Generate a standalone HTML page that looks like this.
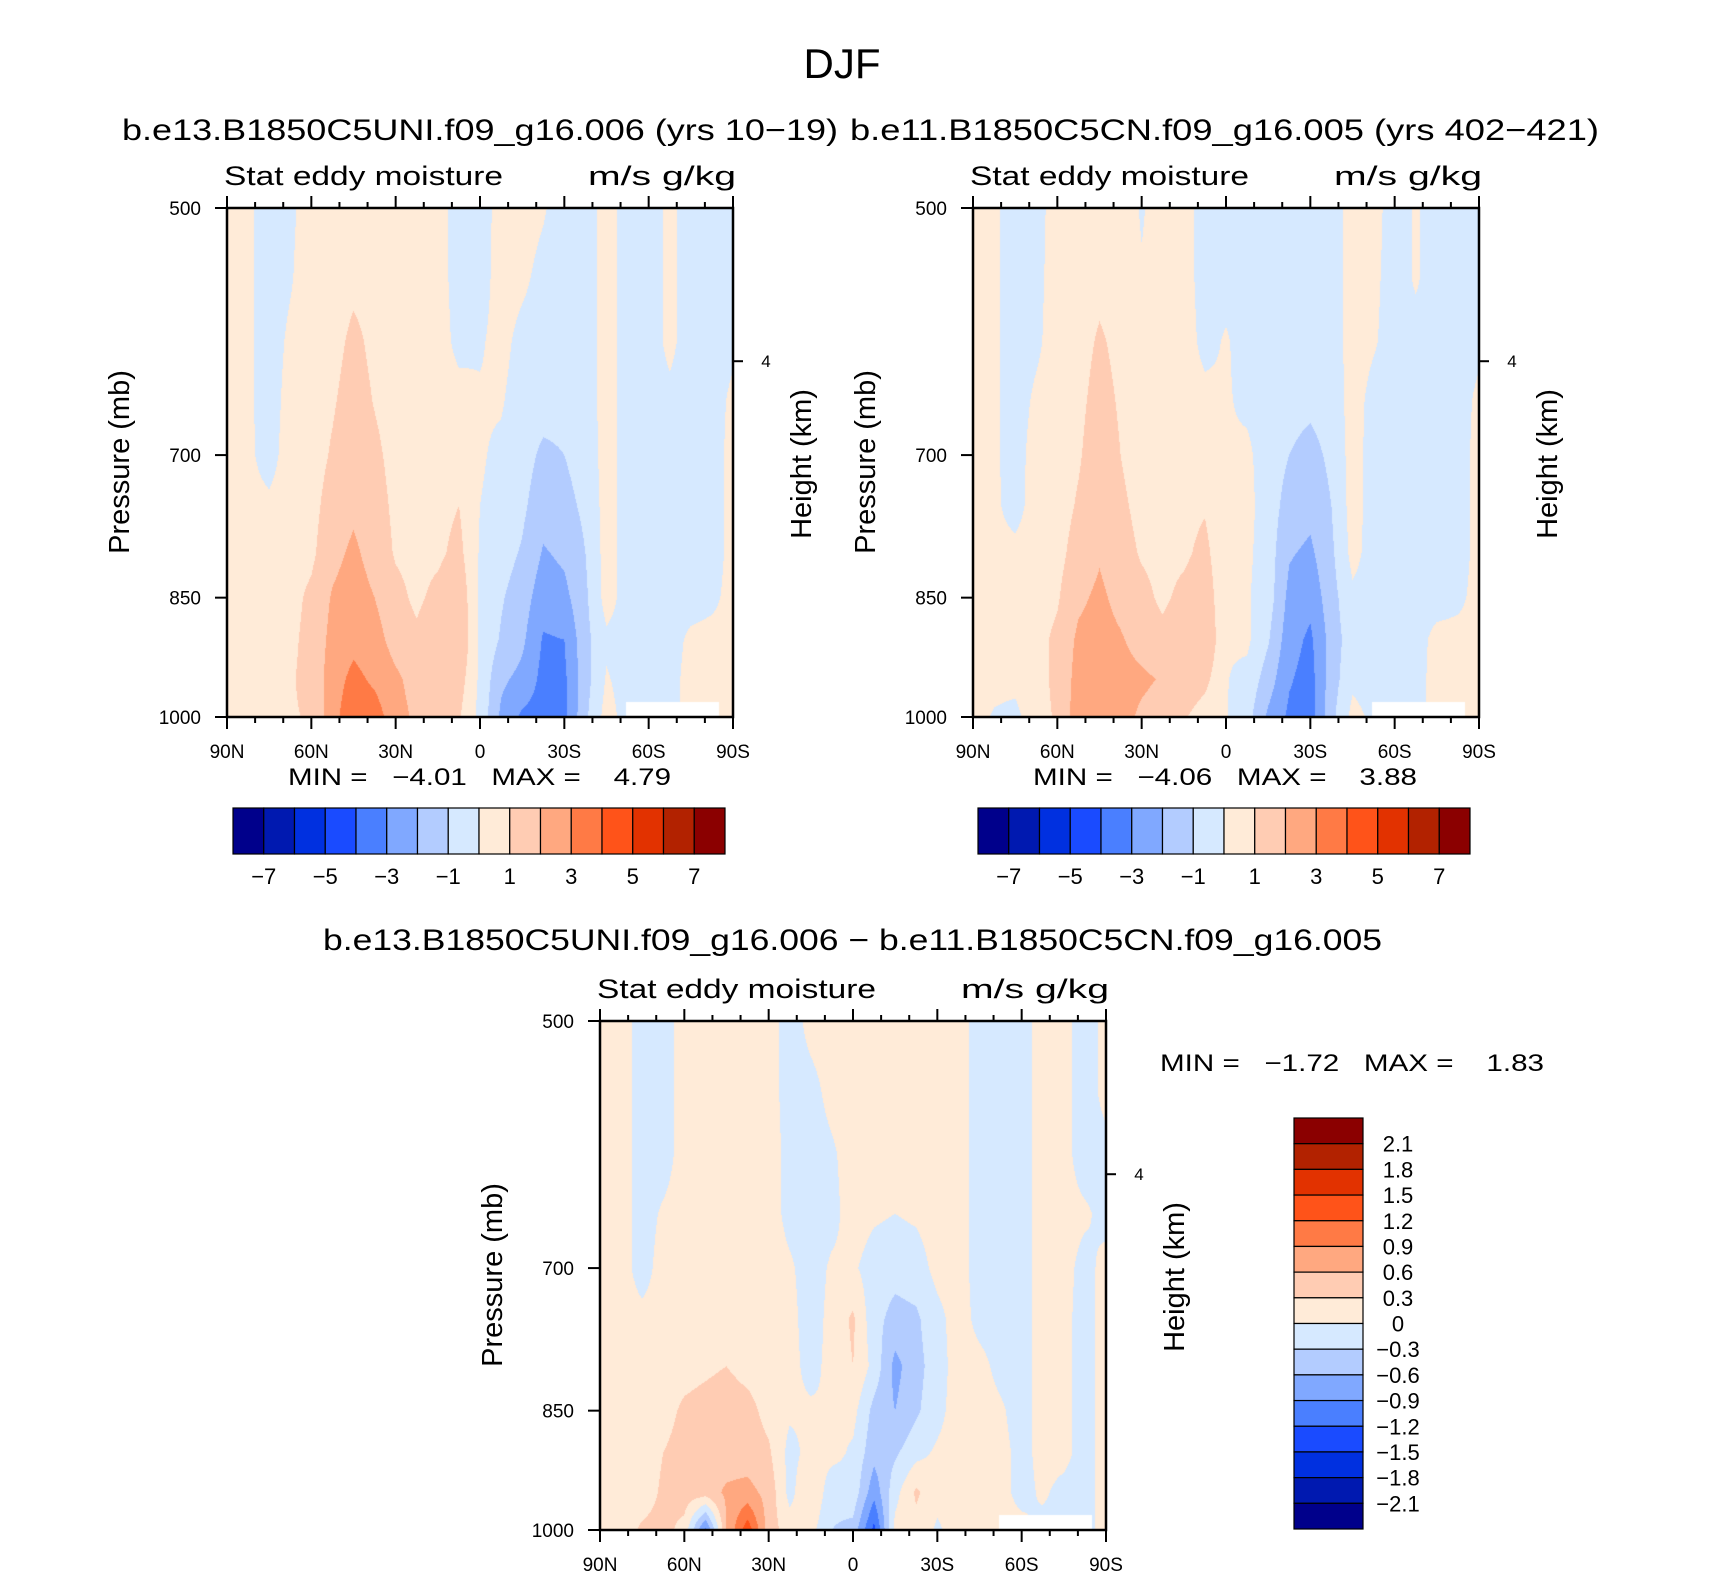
<!DOCTYPE html>
<html><head><meta charset="utf-8"><style>
html,body{margin:0;padding:0;background:#fff;}
#wrap{position:relative;width:1710px;height:1581px;overflow:hidden;background:#fff;}
canvas{position:absolute;}
svg{position:absolute;left:0;top:0;}
text{font-family:"Liberation Sans",sans-serif;fill:#000;}
</style></head><body>
<div id="wrap">
<canvas id="c1"></canvas>
<canvas id="c2"></canvas>
<canvas id="c3"></canvas>
<svg id="s" width="1710" height="1581">
<text x="842" y="78" font-size="42" text-anchor="middle">DJF</text>
<text x="122" y="140" font-size="30" textLength="716" lengthAdjust="spacingAndGlyphs">b.e13.B1850C5UNI.f09_g16.006 (yrs 10−19)</text>
<text x="850" y="140" font-size="30" textLength="749" lengthAdjust="spacingAndGlyphs">b.e11.B1850C5CN.f09_g16.005 (yrs 402−421)</text>
<text x="323" y="950" font-size="30" textLength="1059" lengthAdjust="spacingAndGlyphs">b.e13.B1850C5UNI.f09_g16.006 − b.e11.B1850C5CN.f09_g16.005</text>
<text x="288" y="785" font-size="24" xml:space="preserve" textLength="383" lengthAdjust="spacingAndGlyphs">MIN =   −4.01   MAX =    4.79</text>
<text x="1033" y="785" font-size="24" xml:space="preserve" textLength="384" lengthAdjust="spacingAndGlyphs">MIN =   −4.06   MAX =    3.88</text>
<text x="1160" y="1071" font-size="24" xml:space="preserve" textLength="384" lengthAdjust="spacingAndGlyphs">MIN =   −1.72   MAX =    1.83</text>
</svg>
</div>
<script>
const PLEVS=[500,550,600,650,700,750,800,850,900,950,1000];
const XTICK_LABELS=['90N','60N','30N','0','30S','60S','90S'];
const YTICK_VALUES=[500,700,850,1000];
const CB_LABELS_TOP=['−7','−5','−3','−1','1','3','5','7'];
const CB_LABELS_DIFF=['2.1','1.8','1.5','1.2','0.9','0.6','0.3','0','−0.3','−0.6','−0.9','−1.2','−1.5','−1.8','−2.1'];
const COLORS=['#00008B','#0019B0','#0030E0','#1A4BFF','#4A7FFF','#80A8FF','#B3CCFF','#D6E9FF','#FFEBD8','#FFCCB3','#FFA880','#FF7A45','#FF5319','#E23200','#B22200','#8B0000'];
// columns: latitude 90N -> 90S every 7.5 deg; each column lists values 500 -> 1000 mb
const P1=[
[.4,.4,.4,.4,.4,.4,.4,.4,.4,.4,.4],
[.2,.2,.2,.2,.2,.3,.4,.4,.4,.4,.4],
[-.5,-.5,-.5,-.5,-.4,.2,.4,.5,.5,.6,.6],
[-.2,-.1,.2,.4,.5,.5,.6,.7,.8,.9,.9],
[.5,.6,.6,.6,.6,.7,.8,1.2,1.3,1.3,1.1],
[.5,.6,.7,.9,1.1,1.4,1.7,2.1,2.3,2.5,2.6],
[.6,.8,1.2,1.4,1.6,1.8,2.2,2.5,2.7,3.3,3.8],
[.6,.7,.8,.95,1.2,1.4,1.6,2.0,2.4,2.8,3.5],
[.3,.5,.5,.6,.7,.8,.9,1.3,1.6,2.2,2.4],
[.5,.5,.5,.5,.6,.6,.7,.8,1.2,1.6,1.8],
[.5,.5,.5,.5,.6,.7,.8,1.3,1.9,1.9,1.2],
[-.5,-.5,-.3,.4,.7,1.0,1.3,1.8,2.0,1.5,1.1],
[-.5,-.4,-.1,.1,.1,0,-.1,-.2,-.2,-.2,-.3],
[.4,.4,.3,.1,-.2,-.3,-.6,-.9,-1.1,-1.8,-2.2],
[.4,.2,-.3,-.5,-.6,-.8,-1.1,-1.5,-1.8,-2.3,-3.2],
[.1,-.3,-.5,-.6,-1.2,-1.6,-2.1,-2.6,-3.1,-3.3,-3.4],
[-.5,-.5,-.5,-.7,-1.0,-1.3,-1.8,-2.3,-3.0,-3.2,-3.3],
[-.5,-.5,-.5,-.5,-.6,-.8,-1.0,-1.2,-1.3,-1.4,-1.2],
[.4,.4,.4,.4,.4,.4,.4,.4,-.2,.1,.4],
[-.4,-.4,-.4,-.4,-.4,-.4,-.4,-.4,-.4,-.4,-.4],
[-.4,-.4,-.4,-.4,-.4,-.4,-.4,-.4,-.4,-.4,-.4],
[.2,.2,.2,-.2,-.4,-.4,-.4,-.4,-.4,-.4,-.4],
[-.4,-.4,-.4,-.4,-.4,-.4,-.4,-.4,.2,.4,.4],
[-.4,-.4,-.4,-.4,-.4,-.4,-.4,-.2,.3,.4,.3],
[-.4,-.4,-.2,.2,.3,.3,.3,.3,.3,.3,.3]];
const P2=[
[.4,.4,.4,.4,.4,.4,.4,.4,.4,.4,.4],
[.2,.2,.2,.2,.2,.2,.3,.4,.4,.3,-.1],
[-.5,-.5,-.5,-.5,-.5,-.4,.3,.4,.5,.3,-.3],
[-.4,-.3,-.2,.2,.5,.5,.5,.6,.7,.7,.7],
[.5,.5,.5,.5,.6,.6,.7,.9,1.2,1.2,1.1],
[.5,.6,.7,.8,.9,1.1,1.4,1.8,2.2,2.4,2.6],
[.6,.8,1.1,1.3,1.5,1.7,1.9,2.2,2.4,2.5,3.0],
[.6,.7,.8,.9,1.0,1.2,1.4,1.7,2.1,2.4,2.4],
[-.1,.1,.4,.5,.5,.7,.9,1.3,1.6,2.2,1.8],
[.5,.5,.5,.5,.5,.6,.7,.8,1.3,1.9,1.5],
[.5,.5,.5,.5,.6,.7,.8,1.3,1.9,1.7,1.1],
[-.5,-.5,-.3,.3,.6,.9,1.3,1.7,2.0,1.3,.5],
[-.5,-.3,.1,.1,.1,.1,.1,.1,.1,.05,.05],
[-.4,-.4,-.4,-.2,.2,.3,.2,.1,.2,-.3,-.6],
[-.5,-.5,-.5,-.5,-.5,-.5,-.5,-.5,-.9,-1.5,-2.2],
[-.5,-.5,-.5,-.7,-1.0,-1.4,-1.9,-2.3,-2.6,-2.9,-3.2],
[-.5,-.5,-.6,-.8,-1.3,-1.7,-2.2,-2.7,-3.2,-3.4,-3.5],
[-.5,-.5,-.5,-.6,-.8,-1.0,-1.2,-1.4,-1.6,-1.5,-1.3],
[.4,.4,.4,.4,.4,.4,.3,-.2,-.4,-.2,.3],
[.3,.2,.1,-.3,-.4,-.4,-.4,-.4,-.4,-.4,-.2],
[-.4,-.4,-.4,-.4,-.4,-.4,-.4,-.4,-.4,-.4,-.4],
[.1,.1,-.3,-.4,-.4,-.4,-.4,-.4,-.4,-.4,-.4],
[-.4,-.4,-.4,-.4,-.4,-.4,-.4,-.4,.3,.4,.4],
[-.4,-.4,-.4,-.4,-.4,-.4,-.4,-.2,.3,.3,.3],
[-.4,-.4,-.2,.2,.3,.3,.3,.3,.3,.3,.3]];
const P3=[
[.15,.15,.15,.15,.15,.15,.15,.15,.15,.15,.15],
[.15,.15,.15,.15,.15,.15,.15,.15,.15,.15,.15],
[-.15,-.15,-.15,-.15,-.15,.1,.15,.15,.15,.15,.35],
[-.15,-.15,-.15,.05,.15,.15,.15,.2,.3,.35,.4],
[.15,.15,.15,.15,.15,.15,.2,.35,.4,.45,.2],
[.15,.15,.15,.15,.15,.15,.25,.4,.45,.45,-1.0],
[.15,.15,.15,.15,.15,.15,.3,.45,.45,.65,.6],
[.15,.15,.15,.15,.15,.15,.2,.4,.45,.7,1.4],
[.15,.15,.15,.15,.15,.15,.15,.2,.35,.5,.45],
[-.15,-.15,-.1,-.1,.05,.1,.1,.05,-.1,-.1,.15],
[.1,-.1,-.15,-.15,-.15,-.15,-.1,.05,.1,.3,.1],
[.15,.1,-.05,-.1,.05,.1,.1,0,.1,-.2,-.3],
[.15,.15,.15,.15,.05,.35,.3,.1,-.05,-.1,-.4],
[.15,.15,.15,.05,-.15,-.2,-.1,-.4,-.5,-.8,-1.3],
[.15,.15,.15,0,-.2,-.4,-.7,-.6,-.35,-.1,.1],
[.15,.15,.15,.05,-.15,-.35,-.4,-.35,-.1,.35,.2],
[.15,.15,.15,.15,.1,-.1,-.15,-.1,.05,.1,-.05],
[.15,.15,.15,.15,.15,.15,.15,.15,.15,.15,.15],
[-.15,-.15,-.15,-.15,-.15,-.1,.1,.15,.15,.15,.15],
[-.15,-.15,-.15,-.15,-.15,-.15,-.1,.05,.1,.1,.1],
[-.15,-.15,-.15,-.15,-.15,-.15,-.15,-.15,-.1,-.1,.1],
[.15,.15,.15,.15,.15,.15,.15,.15,.1,.05,-.1],
[.1,.1,.1,.1,.1,.1,.1,.1,.1,-.1,-.1],
[-.15,-.15,-.15,.05,-.1,-.15,-.15,-.15,-.15,-.15,-.15],
[.1,.1,-.1,-.1,.1,.15,.15,.15,.15,.15,.15]];
const MISSING_LAT=[-52,-85];
const MISSING_P=980;
const HEIGHT_KM_P=616;

const NS='http://www.w3.org/2000/svg';
const svg=document.getElementById('s');
function el(tag,attrs,txt){const e=document.createElementNS(NS,tag);for(const k in attrs)e.setAttribute(k,attrs[k]);if(txt!==undefined)e.textContent=txt;svg.appendChild(e);return e;}

function makeAxes(ox,oy,w,h){
  const xOf=lat=>ox+(90-lat)/180*w;
  const yOf=p=>oy+Math.log(p/500)/Math.log(2)*h;
  return {xOf,yOf};
}
function valueAt(data,lat,p){
  const ci=(90-lat)/7.5;let c0=Math.min(Math.floor(ci),data.length-2);const tx=ci-c0;
  let r0=0;while(r0<PLEVS.length-2&&p>PLEVS[r0+1])r0++;
  const ty=Math.max(0,Math.min(1,(p-PLEVS[r0])/(PLEVS[r0+1]-PLEVS[r0])));
  const a=data[c0][r0],b=data[c0+1][r0],c=data[c0][r0+1],d=data[c0+1][r0+1];
  return (a*(1-tx)+b*tx)*(1-ty)+(c*(1-tx)+d*tx)*ty;
}
function hexRGB(h){return [parseInt(h.slice(1,3),16),parseInt(h.slice(3,5),16),parseInt(h.slice(5,7),16)];}
const RGB=COLORS.map(hexRGB);

function drawField(id,data,ox,oy,w,h,b0,step){
  const cv=document.getElementById(id);cv.width=w;cv.height=h;cv.style.left=ox+'px';cv.style.top=oy+'px';
  const ctx=cv.getContext('2d');const img=ctx.createImageData(w,h);
  for(let py=0;py<h;py++){
    const p=500*Math.pow(2,(py+0.5)/h);
    for(let px=0;px<w;px++){
      const lat=90-(px+0.5)/w*180;
      let idx;
      if(p>MISSING_P&&lat<MISSING_LAT[0]&&lat>MISSING_LAT[1]){idx=-1;}
      else{const v=valueAt(data,lat,p);idx=Math.max(0,Math.min(15,Math.floor((v-b0)/step)+1));}
      const o=(py*w+px)*4;const c=idx<0?[255,255,255]:RGB[idx];
      img.data[o]=c[0];img.data[o+1]=c[1];img.data[o+2]=c[2];img.data[o+3]=255;
    }
  }
  ctx.putImageData(img,0,0);
}

function drawFrame(ox,oy,w,h,prefix){
  const ax=makeAxes(ox,oy,w,h);
  for(let lat=90;lat>=-90;lat-=10){
    const x=ax.xOf(lat);const major=(lat%30===0);const L=major?12:6;
    const t1=el('line',{x1:x,y1:oy,x2:x,y2:oy-L,stroke:'#000','stroke-width':2});
    
    
    const t2=el('line',{x1:x,y1:oy+h,x2:x,y2:oy+h+L,stroke:'#000','stroke-width':2});
    
    
  }
  XTICK_LABELS.forEach((s,i)=>{
    const t=el('text',{x:ax.xOf(90-30*i),y:oy+h+41,'font-size':19,'text-anchor':'middle'},s);
    
    
  });
  YTICK_VALUES.forEach(p=>{
    const y=ax.yOf(p);
    const l=el('line',{x1:ox,y1:y,x2:ox-12,y2:y,stroke:'#000','stroke-width':2});
    
    
    const t=el('text',{x:ox-26,y:y+7,'font-size':19,'text-anchor':'end'},String(p));
    
    
  });
  const hy=ax.yOf(HEIGHT_KM_P);
  const hl=el('line',{x1:ox+w,y1:hy,x2:ox+w+10,y2:hy,stroke:'#000','stroke-width':2});
  
  
  const ht=el('text',{x:ox+w+33,y:hy+6,'font-size':17,'text-anchor':'middle'},'4');
  
  
  const fr=el('rect',{x:ox,y:oy,width:w,height:h,fill:'none',stroke:'#000','stroke-width':2.5});
  
  
  const yl=el('text',{x:0,y:0,'font-size':29,'text-anchor':'middle',transform:`translate(${ox-98},${oy+254}) rotate(-90)`},'Pressure (mb)');
  
  
  const rl=el('text',{x:0,y:0,'font-size':29,'text-anchor':'middle',transform:`translate(${ox+w+78},${oy+256}) rotate(-90)`},'Height (km)');
  
  
  const s1=el('text',{x:ox-3,y:oy-23,'font-size':27,textLength:279,lengthAdjust:'spacingAndGlyphs'},'Stat eddy moisture');
  
  
  const s2=el('text',{x:ox+361,y:oy-23,'font-size':27,textLength:148,lengthAdjust:'spacingAndGlyphs'},'m/s g/kg');
  
  
}

function hColorbar(x0,y0,w,h,prefix){
  const bw=w/16;
  COLORS.forEach((c,i)=>{
    const r=el('rect',{x:x0+i*bw,y:y0,width:bw,height:h,fill:c,stroke:'#000','stroke-width':1.2});
    
    
  });
  CB_LABELS_TOP.forEach((s,i)=>{
    const t=el('text',{x:x0+(1+2*i)*bw,y:y0+h+30,'font-size':22,'text-anchor':'middle'},s);
    
    
  });
}
function vColorbar(x0,y0,w,h){
  const bh=h/16;
  for(let i=0;i<16;i++){
    const r=el('rect',{x:x0,y:y0+i*bh,width:w,height:bh,fill:COLORS[15-i],stroke:'#000','stroke-width':1.2});
    
    
  }
  CB_LABELS_DIFF.forEach((s,i)=>{
    const t=el('text',{x:x0+104,y:y0+(i+1)*bh+8,'font-size':22,'text-anchor':'middle'},s);
    
    
  });
}

drawField('c1',P1,227,208,506,509,-7,1);
drawField('c2',P2,973,208,506,509,-7,1);
drawField('c3',P3,600,1021,506,509,-2.1,0.3);
drawFrame(227,208,506,509,'panel1');
drawFrame(973,208,506,509,'panel2');
drawFrame(600,1021,506,509,'difference');
hColorbar(233,808,492,46,'panel1');
hColorbar(978,808,492,46,'panel2');
vColorbar(1294,1118,69,411);
</script>
</body></html>
